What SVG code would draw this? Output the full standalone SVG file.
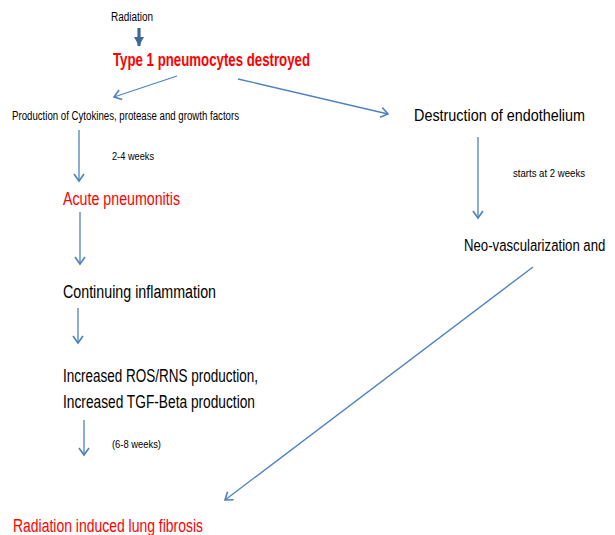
<svg xmlns="http://www.w3.org/2000/svg" width="615" height="535" viewBox="0 0 615 535">
<style>
text{font-family:"Liberation Sans",Arial,sans-serif;fill:#000}
.red{fill:#ff0000}
.c{fill:none;stroke:#4f81bd;stroke-width:1.3}
</style>
<defs>
<marker id="ah" markerUnits="userSpaceOnUse" markerWidth="12" markerHeight="12" refX="8" refY="6" orient="auto" overflow="visible">
<path d="M1,1 L8,6 L1,11" fill="none" stroke="#4f81bd" stroke-width="1.6"/>
</marker>
<marker id="th" markerUnits="userSpaceOnUse" markerWidth="10" markerHeight="10" refX="9" refY="5" orient="auto" overflow="visible">
<path d="M0,0 L9,5 L0,10 Z" fill="#3f6a98"/>
</marker>
</defs>
<rect width="615" height="535" fill="#fff"/>
<g id="connectors">
<line x1="139" y1="28" x2="139" y2="46" stroke="#3f6a98" stroke-width="3.2" marker-end="url(#th)"/>
<line class="c" x1="177" y1="76" x2="114" y2="97" marker-end="url(#ah)"/>
<line class="c" x1="238" y1="79" x2="388" y2="114" marker-end="url(#ah)"/>
<line class="c" x1="79" y1="130" x2="79" y2="181" marker-end="url(#ah)"/>
<line class="c" x1="80" y1="212" x2="80" y2="264" marker-end="url(#ah)"/>
<line class="c" x1="78" y1="308" x2="78" y2="343" marker-end="url(#ah)"/>
<line class="c" x1="84" y1="420" x2="84" y2="455" marker-end="url(#ah)"/>
<line class="c" x1="478" y1="137" x2="478" y2="218" marker-end="url(#ah)"/>
<line class="c" x1="533" y1="267" x2="225" y2="500" marker-end="url(#ah)"/>
</g>
<g id="radiation"><text x="111" y="21" font-size="12" textLength="42" lengthAdjust="spacingAndGlyphs">Radiation</text></g>
<g id="type1"><text class="red" x="113" y="66" font-size="19" font-weight="bold" textLength="197" lengthAdjust="spacingAndGlyphs">Type 1 pneumocytes destroyed</text></g>
<g id="production"><text x="12" y="120" font-size="12" textLength="227" lengthAdjust="spacingAndGlyphs">Production of Cytokines, protease and growth factors</text></g>
<g id="destruction"><text x="414" y="121" font-size="17" textLength="171" lengthAdjust="spacingAndGlyphs">Destruction of endothelium</text></g>
<g id="label-2-4"><text x="112" y="160" font-size="11" textLength="42" lengthAdjust="spacingAndGlyphs">2-4 weeks</text></g>
<g id="label-starts"><text x="513" y="177" font-size="11" textLength="72" lengthAdjust="spacingAndGlyphs">starts at 2 weeks</text></g>
<g id="acute"><text class="red" x="63" y="205" font-size="18" textLength="117" lengthAdjust="spacingAndGlyphs">Acute pneumonitis</text></g>
<g id="neo"><text transform="translate(464,251) scale(0.76,1)" x="0" y="0" font-size="17" textLength="186" lengthAdjust="spacingAndGlyphs">Neo-vascularization and</text></g>
<g id="continuing"><text x="63" y="298" font-size="18" textLength="153" lengthAdjust="spacingAndGlyphs">Continuing inflammation</text></g>
<g id="increased">
<text x="63" y="382" font-size="17.5" textLength="195" lengthAdjust="spacingAndGlyphs">Increased ROS/RNS production,</text>
<text x="63" y="408" font-size="17.5" textLength="192" lengthAdjust="spacingAndGlyphs">Increased TGF-Beta production</text>
</g>
<g id="label-6-8"><text x="112" y="448" font-size="11" textLength="49" lengthAdjust="spacingAndGlyphs">(6-8 weeks)</text></g>
<g id="fibrosis"><text class="red" x="13" y="532" font-size="18" textLength="190" lengthAdjust="spacingAndGlyphs">Radiation induced lung fibrosis</text></g>
</svg>
